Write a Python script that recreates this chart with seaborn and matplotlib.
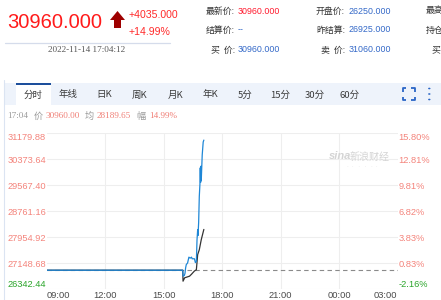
import numpy as np
import pandas as pd
import matplotlib
matplotlib.use("Agg")
import matplotlib.pyplot as plt
import seaborn as sns
from matplotlib.patches import Rectangle, Polygon, Circle
from matplotlib.lines import Line2D

sns.set_theme(style="white")
plt.rcParams['font.family'] = ['Liberation Sans', 'Noto Sans CJK SC', 'DejaVu Sans']

# ---------------- data ----------------
price_times = ["09:00", "15:59", "16:00", "16:04", "16:06", "16:08", "16:10", "16:14",
               "16:18", "16:22", "16:26", "16:28", "16:35", "16:38", "16:41", "16:43",
               "16:45", "16:46", "16:48", "16:50", "16:52", "16:53", "16:54", "16:55",
               "16:56", "16:59", "17:02", "17:04"]
price_values = [26925, 26925, 26740, 26760, 26830, 27000, 27100, 27150,
                27330, 27300, 27330, 27280, 27280, 27160, 27200, 27870,
                28180, 28000, 28400, 29210, 29600, 30100, 29650, 30150,
                29700, 30500, 30900, 30960]
avg_times = ["09:00", "15:59", "16:00", "16:05", "16:20", "16:26", "16:35", "16:41",
             "16:45", "16:50", "16:56", "17:04"]
avg_values = [26925, 26925, 26585, 26690, 26740, 26800, 26900, 26940,
              27410, 27560, 27870, 28189.65]
prev_settle = 26925.0

y_ticks = [26342.44, 27148.68, 27954.92, 28761.16, 29567.40, 30373.64, 31179.88]
y_tick_labels = ["26342.44", "27148.68", "27954.92", "28761.16", "29567.40", "30373.64", "31179.88"]
pct_labels = ["-2.16%", "0.83%", "3.83%", "6.82%", "9.81%", "12.81%", "15.80%"]
x_tick_labels = ["09:00", "12:00", "15:00", "18:00", "21:00", "00:00", "03:00"]

tabs = ["分时", "年线", "日K", "周K", "月K", "年K", "5分", "15分", "30分", "60分"]


def to_min(s):
    h, m = map(int, s.split(":"))
    v = (h - 9) * 60 + m
    if v < 0:
        v += 1440
    return v


price_df = pd.DataFrame({"t": [to_min(s) for s in price_times], "p": price_values})
avg_df = pd.DataFrame({"t": [to_min(s) for s in avg_times], "p": avg_values})
x_ticks = [to_min(s) for s in x_tick_labels]
x_ticks[-1] = x_ticks[-1] if x_ticks[-1] > x_ticks[-2] else x_ticks[-1] + 1440

# ---------------- figure ----------------
W, H = 441, 300
fig = plt.figure(figsize=(W / 100, H / 100), dpi=100)
fig.patch.set_facecolor("white")


def X(x):
    return x / W


def Y(y):
    return 1 - y / H


def rect(x0, y0, x1, y1, **kw):
    fig.add_artist(Rectangle((X(x0), Y(y1)), (x1 - x0) / W, (y1 - y0) / H,
                             transform=fig.transFigure, **kw))


def hline(x0, x1, y, **kw):
    fig.add_artist(Line2D([X(x0), X(x1)], [Y(y), Y(y)], transform=fig.transFigure, **kw))


def vline(x, y0, y1, **kw):
    fig.add_artist(Line2D([X(x), X(x)], [Y(y0), Y(y1)], transform=fig.transFigure, **kw))


CJK = ['Noto Sans CJK SC', 'DejaVu Sans']
SANS = ['Liberation Sans', 'Noto Sans CJK SC', 'DejaVu Sans']
SERIF = ['Liberation Serif', 'Noto Sans CJK SC', 'DejaVu Sans']

# ---------------- header ----------------
fig.text(X(7), Y(23), "30960.000", color="#ff1a1a", fontsize=14.5, family=SANS,
         ha="left", va="center")
# arrow
fig.add_artist(Polygon([(X(110), Y(20)), (X(117.5), Y(11)), (X(125), Y(20)),
                        (X(121), Y(20)), (X(121), Y(28)), (X(114), Y(28)), (X(114), Y(20))],
                       closed=True, transform=fig.transFigure, color="#9e0000", lw=0))
fig.text(X(129), Y(15), "+4035.000", color="#ff2a2a", fontsize=7.6, family=SANS, ha="left", va="center")
fig.text(X(129), Y(32), "+14.99%", color="#ff2a2a", fontsize=7.6, family=SANS, ha="left", va="center")
hline(5, 170, 42.5, color="#d5dceb", lw=0.9)
fig.text(X(87), Y(50.5), "2022-11-14 17:04:12", color="#555555", fontsize=6.6, family=SERIF,
         ha="center", va="center")

LBL = "#333333"
RED = "#ff1a2e"
BLU = "#3469c8"
rows = [
    (206, 11, "最新价:", 238, "30960.000", RED),
    (316, 11, "开盘价:", 349, "26250.000", BLU),
    (206, 30, "结算价:", 238, "--", BLU),
    (316, 30, "昨结算:", 349, "26925.000", BLU),
    (211, 50, "买  价:", 238, "30960.000", BLU),
    (321, 50, "卖  价:", 349, "31060.000", BLU),
]
for lx, ly, lt, vx, vt, vc in rows:
    fig.text(X(lx), Y(ly), lt, color=LBL, fontsize=6.4, family=CJK, ha="left", va="center")
    fig.text(X(vx), Y(ly), vt, color=vc, fontsize=6.4, family=SANS, ha="left", va="center")
fig.text(X(426), Y(11), "最高", color=LBL, fontsize=6.4, family=CJK, ha="left", va="center")
fig.text(X(426), Y(30), "持仓", color=LBL, fontsize=6.4, family=CJK, ha="left", va="center")
fig.text(X(431), Y(50), "买", color=LBL, fontsize=6.4, family=CJK, ha="left", va="center")

# ---------------- tab bar ----------------
vline(3.5, 80, 300, color="#dbe4f2", lw=0.8)
rect(4, 83, 441, 104.5, color="#eef3fb", lw=0)
rect(16, 83, 50.5, 104.5, color="white", lw=0)
rect(16, 82.5, 50.5, 84.5, color="#1d4f9c", lw=0)
tab_x = [33, 68, 104, 139, 175, 210, 245, 280, 315, 350]
for tx, tt in zip(tab_x, tabs):
    fig.text(X(tx), Y(95), tt, color="#3a3a3a", fontsize=6.8, family=CJK, ha="center", va="center")
# expand icon
ic = "#2b66c6"
x0, x1, y0, y1, c = 403, 414.5, 88.5, 100, 3.2
for (ax_, ay_, dx, dy) in [(x0, y0, 1, 1), (x1, y0, -1, 1), (x0, y1, 1, -1), (x1, y1, -1, -1)]:
    fig.add_artist(Line2D([X(ax_), X(ax_), X(ax_ + dx * c)], [Y(ay_ + dy * c), Y(ay_), Y(ay_)],
                          transform=fig.transFigure, color=ic, lw=1.3, solid_capstyle="butt"))
for dy in [88.5, 94, 99.5]:
    fig.add_artist(Circle((X(429.3), Y(dy)), 1.2 / W, transform=fig.transFigure, color=ic, lw=0))

# info line
info = [(7, "17:04", "#9a9a9a", SERIF), (33.5, "价", "#9a9a9a", CJK), (46, "30960.00", "#f07f76", SERIF),
        (84.5, "均", "#9a9a9a", CJK), (97, "28189.65", "#f07f76", SERIF),
        (136, "幅", "#9a9a9a", CJK), (149, "14.99%", "#f07f76", SERIF)]
for ix, it, icol, ifam in info:
    fig.text(X(ix), Y(116.5), it, color=icol, fontsize=6.6, family=ifam, ha="left", va="center")

# ---------------- chart ----------------
left, right, top, bottom = 46.5, 397.6, 133, 289
ax = fig.add_axes([X(left), Y(bottom), (right - left) / W, (bottom - top) / H])
ax.set_facecolor("none")
ax.set_xlim(x_ticks[0], x_ticks[-1])
ax.set_ylim(y_ticks[0], y_ticks[-1])
for s in ax.spines.values():
    s.set_visible(False)
for yt in y_ticks:
    ax.axhline(yt, color="#eeeeee", lw=0.8, zorder=0)
for xt in x_ticks[1:-1]:
    ax.axvline(xt, color="#eeeeee", lw=0.8, zorder=0)
ax.axhline(prev_settle, color="#8a8a8a", lw=0.8, ls=(0, (4, 3)), zorder=1)

sns.lineplot(data=avg_df, x="t", y="p", ax=ax, color="#333333", lw=0.9, estimator=None, zorder=2)
sns.lineplot(data=price_df, x="t", y="p", ax=ax, color="#1f87d6", lw=0.9, estimator=None, zorder=3)
ax.set_xlabel("")
ax.set_ylabel("")

ax.set_xticks(x_ticks)
ax.set_xticklabels(x_tick_labels, fontsize=6.7, color="#4a4a4a", family=SANS)
xl = ax.get_xticklabels()
xl[0].set_ha("left")
xl[-1].set_ha("right")
ax.tick_params(axis="x", length=0, pad=1.6)

ax.set_yticks(y_ticks)
ax.set_yticklabels(y_tick_labels, fontsize=6.7, family=SANS)
ax.tick_params(axis="y", length=0, pad=28.3)
for i, lab in enumerate(ax.get_yticklabels()):
    lab.set_ha("left")
    lab.set_color("#2aa52a" if y_ticks[i] < prev_settle else "#f4847c")
ax.get_yticklabels()[0].set_va("bottom")
ax.get_yticklabels()[-1].set_va("top")

ax2 = ax.twinx()
ax2.set_ylim(ax.get_ylim())
for s in ax2.spines.values():
    s.set_visible(False)
ax2.set_yticks(y_ticks)
ax2.set_yticklabels(pct_labels, fontsize=6.7, family=SANS)
ax2.tick_params(axis="y", length=0, pad=0.8)
for i, lab in enumerate(ax2.get_yticklabels()):
    lab.set_color("#2aa52a" if y_ticks[i] < prev_settle else "#f4847c")
ax2.get_yticklabels()[0].set_va("bottom")
ax2.get_yticklabels()[-1].set_va("top")
ax2.grid(False)

# watermark
fig.text(X(329), Y(156.5), "sina", color="#d4d4d4", fontsize=8, style="italic",
         weight="bold", family=SANS, ha="left", va="center")
fig.text(X(350), Y(156.5), "新浪财经", color="#d4d4d4", fontsize=7.2, family=CJK,
         ha="left", va="center")
fig.text(X(362), Y(166), "·  ·   ·   ·   ·  ·", color="#dcdcdc", fontsize=4, family=SANS,
         ha="center", va="center")

fig.savefig("out.png", dpi=100)
